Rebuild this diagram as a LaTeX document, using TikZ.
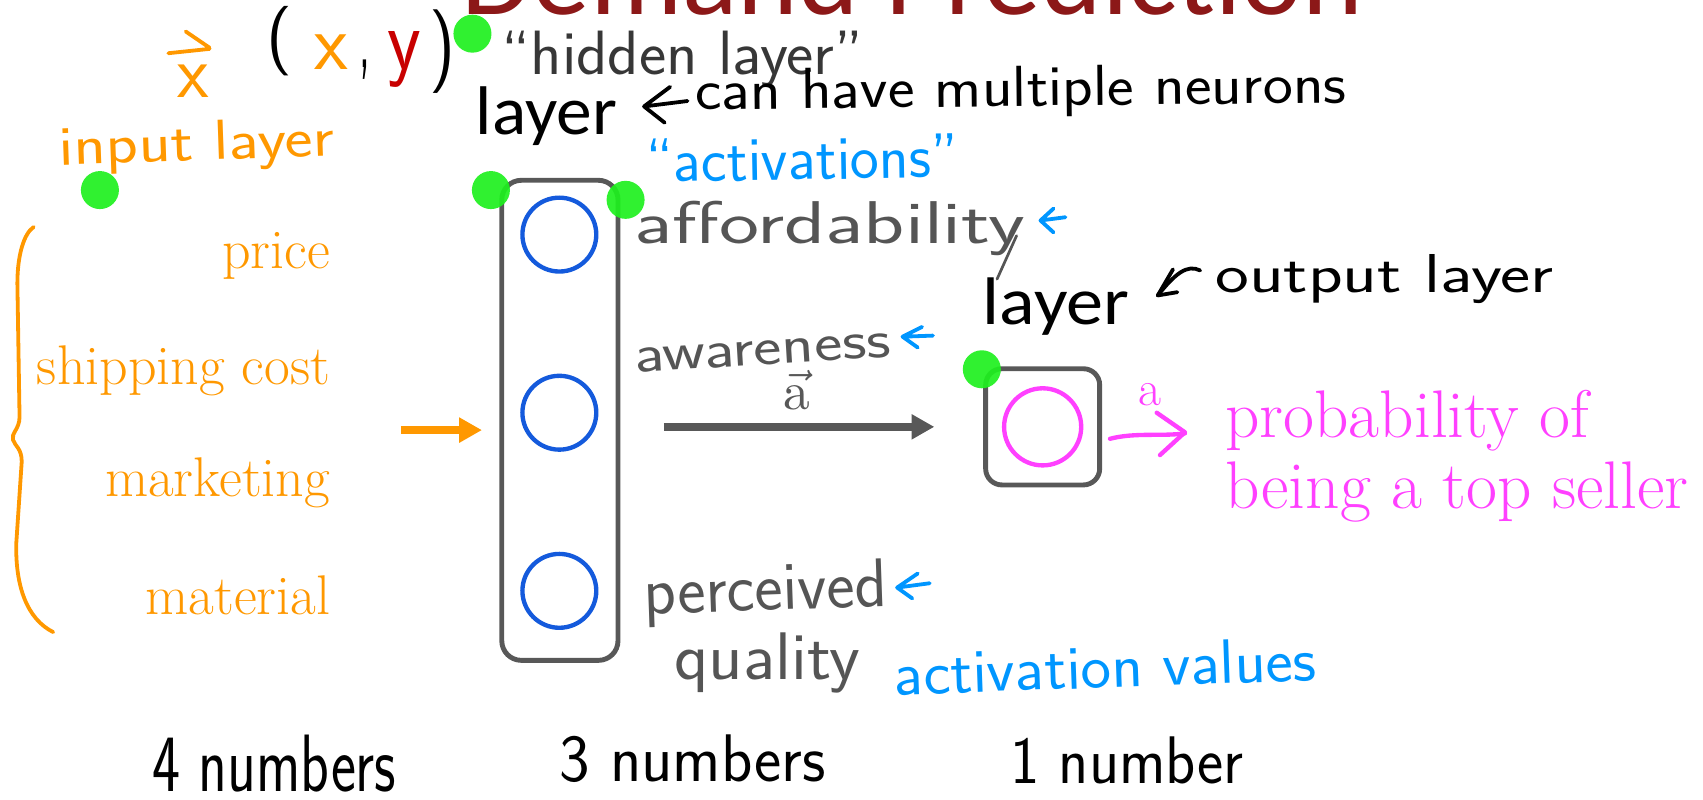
\documentclass[tikz,border=0pt]{standalone}
\usepackage{fontspec}
\usepackage{graphicx}
\usetikzlibrary{arrows.meta}
\newfontfamily\carlito{Carlito}

\definecolor{titlered}{RGB}{140,24,24}
\definecolor{orng}{RGB}{255,152,0}
\definecolor{yred}{RGB}{200,0,0}
\definecolor{circblue}{RGB}{20,90,220}
\definecolor{hblue}{RGB}{0,150,255}
\definecolor{mag}{RGB}{255,64,255}
\definecolor{boxgray}{RGB}{88,88,88}
\definecolor{handgray}{RGB}{85,85,85}
\definecolor{handdark}{RGB}{55,55,55}
\definecolor{dotgreen}{RGB}{30,240,30}

% handwritten word squeezed or stretched into a given width and height
\newcommand\hw[3]{\resizebox{#1}{#2}{#3}}

\tikzset{
  hand/.style={anchor=base west, inner sep=0pt, outer sep=0pt, font=\sffamily\fontsize{55}{60}\selectfont},
  typed/.style={anchor=base west, inner sep=0pt, outer sep=0pt, font=\carlito\fontsize{60}{66}\selectfont},
  serif/.style={inner sep=0pt, outer sep=0pt, font=\rmfamily\fontsize{51.5}{56}\selectfont\addfontfeatures{FakeBold=1}},
  greendot/.style={circle, fill=dotgreen, fill opacity=0.92, inner sep=0pt, minimum size=35pt},
  neuron/.style={circle, draw=circblue, line width=4pt, minimum size=68pt, inner sep=0pt},
  layerbox/.style={draw=boxgray, line width=4.5pt, inner sep=0pt},
  handline/.style={line width=3.5pt, line cap=round, line join=round},
  fatarrow/.style={line width=7.5pt, -{Triangle[length=21pt,width=22pt]}},
}

\begin{document}
\begin{tikzpicture}[x=1pt,y=-1pt]
\useasboundingbox (0,0) rectangle (1568,736);

% title, mostly above the top edge
\node[anchor=base west, inner sep=0pt, text=titlered, font=\carlito\fontsize{106}{110}\selectfont]
  (title) at (425,13) {\resizebox{830pt}{\height}{Demand Prediction}};

% x-vector and training pair
\node[hand, text=orng] (xv) at (163,90) {\hw{29pt}{30pt}{x}};
\draw[handline, orng] (155,49) -- (193,45) (171,29) -- (193,44);
\node[anchor=north west, inner sep=0pt, font=\sffamily\fontsize{55}{60}\selectfont] (lpar) at (245,6) {\resizebox*{24pt}{64pt}{(}};
\node[hand, text=orng] (px) at (290,64) {\hw{31pt}{32pt}{x}};
\node[hand] (comma) at (331,62) {\resizebox*{10pt}{18pt}{,}};
\node[hand, text=yred] (py) at (357,64) {\hw{31pt}{35pt}{y}};
\node[anchor=north west, inner sep=0pt, font=\sffamily\fontsize{55}{60}\selectfont] (rpar) at (395,9) {\resizebox*{24pt}{77pt}{)}};

% handwritten notes
\node[hand, text=handdark] (hidlab) at (462,69) {\hw{333pt}{40pt}{“hidden layer”}};
\node[hand, rotate=0.6] (multi) at (640,101) {\hw{600pt}{37pt}{can have multiple neurons}};
\draw[handline] (633,93) -- (593,98) (617,80) -- (593,98) -- (612,113);
\node[hand, text=orng, rotate=2] (inlab) at (55,152) {\hw{253pt}{36pt}{input layer}};
\node[hand, text=hblue, rotate=1] (actq) at (595,168) {\hw{288pt}{40pt}{“activations”}};
\node[hand, text=handgray] (afford) at (584,224) {\hw{360pt}{39pt}{affordability}};
\draw[handline, handgray, line width=2.5pt] (936,217) -- (918,257);
\draw[handline, hblue] (981,200) -- (958,203) (970,192) -- (958,203) -- (970,214);
\node[hand] (outlab) at (1119,269) {\hw{311pt}{35pt}{output layer}};
\draw[handline] (1105,249) .. controls (1093,243) and (1082,252) .. (1066,272);
\draw[handline] (1080,248) -- (1066,272) -- (1084,269);
\node[hand, text=handgray, rotate=3.5] (aware) at (585,343) {\hw{236pt}{22pt}{awareness}};
\draw[handline, hblue] (859,309) -- (831,310) (849,301) -- (831,310) -- (845,320);
\node[hand, text=handgray, rotate=2] (perc) at (593,566) {\hw{225pt}{44pt}{perceived}};
\draw[handline, hblue] (856,537) -- (826,541) (845,528) -- (826,541) -- (840,551);
\node[hand, text=handgray] (qual) at (621,626) {\hw{171pt}{43pt}{quality}};
\node[hand, text=hblue, rotate=2] (actval) at (824,640) {\hw{389pt}{40pt}{activation values}};
\node[hand] (n4) at (140,729) {\hw{225pt}{52pt}{4 numbers}};
\node[hand] (n3) at (515,720) {\hw{245pt}{43pt}{3 numbers}};
\node[hand] (n1) at (930,721) {\hw{215pt}{43pt}{1 number}};

% typed layer captions
\node[typed] (hlayer) at (438,124) {\resizebox{130pt}{44pt}{layer}};
\node[typed] (olayer) at (905,299) {\resizebox{135pt}{43pt}{layer}};

% input features with their brace
\draw[orng, line width=3.5pt, line cap=round]
  (31,209) .. controls (22,215) and (16,235) .. (16,261) -- (18,384)
  .. controls (18,395) and (10,399) .. (12,405)
  .. controls (14,411) and (20,413) .. (20,425) -- (15,500)
  .. controls (14,540) and (25,570) .. (49,582);
\node[serif, text=orng, anchor=base east] (f1) at (304,247) {price};
\node[serif, text=orng, anchor=base east] (f2) at (304,354) {shipping cost};
\node[serif, text=orng, anchor=base east] (f3) at (304,457) {marketing};
\node[serif, text=orng, anchor=base east] (f4) at (304,566) {material};

% hidden layer
\node[layerbox, rounded corners=18pt, minimum width=107pt, minimum height=442pt] (hid) at (515.5,387) {};
\node[neuron] (h1) at (515,216) {};
\node[neuron] (h2) at (515,380) {};
\node[neuron] (h3) at (515,544) {};

% output layer
\node[layerbox, rounded corners=15pt, minimum width=105pt, minimum height=107pt] (out) at (960,393) {};
\node[neuron, draw=mag, minimum size=71pt] (o1) at (960,393) {};

% arrows between layers
\coordinate (inStart) at (369,396);
\draw[fatarrow, orng, shorten >=16pt] (inStart) -- (inStart -| hid.west);
\draw[fatarrow, boxgray, shorten <=40pt, shorten >=45pt] (hid.east |- out.west) -- (out.west);
\node[anchor=base, inner sep=0pt, text=boxgray] (avec) at (734,377) {\resizebox{!}{36pt}{$\vec{\mathrm{a}}$}};

% output value
\node[serif, anchor=base west, text=mag, font=\rmfamily\fontsize{46}{50}\selectfont\addfontfeatures{FakeBold=1}] (aout) at (1048,373) {a};
\draw[handline, mag, line width=4pt] (1022,404) .. controls (1045,398) and (1070,402) .. (1091,399);
\draw[handline, mag, line width=4pt] (1065,380) -- (1091,398) -- (1068,419);
\node[anchor=base west, align=left, inner sep=0pt, text=mag, font=\rmfamily\fontsize{62}{65}\selectfont\addfontfeatures{FakeBold=1}]
  (prob) at (1128,468) {probability of\\being a top seller};

% green markers
\node[greendot] (g1) at (435,31) {};
\node[greendot] (g2) at (92,175) {};
\node[greendot] (g3) at (452,175) {};
\node[greendot] (g4) at (576,184) {};
\node[greendot] (g5) at (904,340) {};
\end{tikzpicture}
\end{document}
